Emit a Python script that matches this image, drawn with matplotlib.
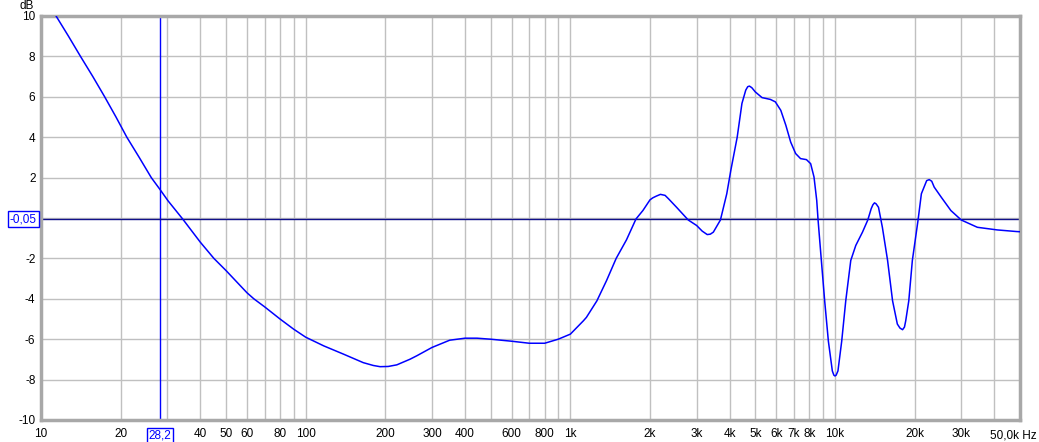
import numpy as np
import matplotlib
matplotlib.use("Agg")
import matplotlib.pyplot as plt

# frequency response (Hz, dB)
freq_hz = [10, 11.4, 12.7, 14.1, 15.7, 17.4, 19.2, 21.1, 23.5, 26.1, 28.2, 30.2,
           34.3, 40, 45, 50, 60, 63.7, 70, 80, 90, 100, 117, 139, 165, 180, 191,
           205, 221, 248, 263, 300, 350, 400, 444, 500, 600, 700, 800, 900, 1000,
           1120, 1150, 1260, 1370, 1490, 1630, 1770, 1880, 2000, 2050, 2110, 2190,
           2280, 2350, 2520, 2790, 3000, 3150, 3290, 3380, 3470, 3690, 3900, 4040,
           4270, 4450, 4600, 4680, 4750, 4850, 5000, 5300, 5700, 5950, 6240, 6520,
           6800, 7100, 7410, 7800, 8090, 8330, 8530, 8630, 8880, 9140, 9440, 9770,
           9900, 10000, 10100, 10260, 10600, 10980, 11470, 11980, 12700, 13300,
           13700, 13900, 14100, 14300, 14600, 15100, 15800, 16500, 17200, 17600,
           18000, 18300, 18500, 19000, 19600, 20600, 21200, 22200, 22700, 23200,
           23700, 25200, 27400, 30000, 34500, 41000, 48500, 50000]
level_db = [11.25, 10.0, 9.0, 8.0, 7.0, 6.0, 5.0, 4.0, 3.0, 2.0, 1.4, 0.85,
            -0.05, -1.2, -2.0, -2.6, -3.7, -4.0, -4.4, -5.0, -5.5, -5.9, -6.33,
            -6.74, -7.16, -7.3, -7.36, -7.35, -7.27, -6.99, -6.82, -6.41, -6.05,
            -5.95, -5.95, -6.0, -6.1, -6.2, -6.2, -6.0, -5.75, -5.09, -4.92, -4.1,
            -3.1, -2.0, -1.08, -0.05, 0.37, 0.9, 1.0, 1.08, 1.17, 1.12, 0.95, 0.53,
            -0.1, -0.37, -0.65, -0.82, -0.8, -0.7, -0.1, 1.2, 2.36, 4.0, 5.67, 6.33,
            6.5, 6.53, 6.45, 6.24, 5.96, 5.87, 5.75, 5.33, 4.59, 3.76, 3.19, 2.94,
            2.89, 2.69, 2.03, 0.87, -0.1, -2.1, -4.1, -6.1, -7.57, -7.78, -7.82,
            -7.78, -7.57, -6.1, -4.1, -2.1, -1.36, -0.7, -0.1, 0.46, 0.65, 0.75,
            0.7, 0.53, -0.46, -2.1, -4.1, -5.25, -5.45, -5.53, -5.4, -5.09, -4.1,
            -2.1, -0.1, 1.2, 1.85, 1.9, 1.82, 1.53, 1.03, 0.37, -0.1, -0.46, -0.59,
            -0.67, -0.68]

cursor_hz = 28.2
cursor_db = -0.05

grid_hz = [m * 10 ** d for d in range(1, 5) for m in range(1, 10) if m * 10 ** d < 50000]
label_hz = {10: "10", 20: "20", 40: "40", 50: "50", 60: "60", 80: "80",
            100: "100", 200: "200", 300: "300", 400: "400", 600: "600",
            800: "800", 1000: "1k", 2000: "2k", 3000: "3k", 4000: "4k",
            5000: "5k", 6000: "6k", 7000: "7k", 8000: "8k", 10000: "10k",
            20000: "20k", 30000: "30k"}
y_ticks = list(range(-10, 11, 2))

plt.rcParams['font.family'] = ['Liberation Sans', 'DejaVu Sans']
blue = '#0000ff'
grid_col = '#c0c0c0'

fig = plt.figure(figsize=(10.39, 4.42), dpi=100)
ax = fig.add_axes([41 / 1039, 22 / 442, 979 / 1039, 404 / 442])
ax.set_xscale('log')

ax.set_xticks(grid_hz)
ax.set_xticklabels([label_hz.get(int(round(f)), "") for f in grid_hz])
ax.xaxis.set_minor_locator(matplotlib.ticker.NullLocator())
ax.set_yticks(y_ticks)
# the 0 label sits under the cursor box
ax.set_yticklabels(["" if v == 0 else str(v) for v in y_ticks])
ax.set_xlim(10, 50000)
ax.set_ylim(-10, 10)
ax.tick_params(axis='both', length=0, labelsize=8.5, colors='black')
ax.tick_params(axis='x', pad=6)
ax.tick_params(axis='y', pad=4)
ax.grid(True, color=grid_col, linewidth=1.0)
ax.set_axisbelow(True)

for s in ax.spines.values():
    s.set_color('#a8a8a8')
    s.set_linewidth(2.5)

ax.plot(freq_hz, level_db, color=blue, linewidth=1.1, zorder=3)

# cursor lines
ax.axvline(cursor_hz, color=blue, linewidth=1.0, zorder=2)
ax.axhline(cursor_db, color='#10108a', linewidth=1.0, zorder=2)

box = dict(boxstyle='square,pad=0.15', facecolor='white', edgecolor=blue, linewidth=1.0)
ax.annotate("-0,05", xy=(0, cursor_db), xycoords=('axes fraction', 'data'),
            xytext=(-3, 0), textcoords='offset points', ha='right', va='center',
            color=blue, fontsize=8.5, bbox=box)
ax.annotate("28,2", xy=(cursor_hz, 0), xycoords=('data', 'axes fraction'),
            xytext=(0, -11), textcoords='offset points', ha='center', va='center',
            color=blue, fontsize=8.5, bbox=box)

ax.annotate("50,0k Hz", xy=(1, 0), xycoords='axes fraction',
            xytext=(-5, -11), textcoords='offset points', ha='center', va='center',
            fontsize=8.5, annotation_clip=False)
ax.annotate("dB", xy=(0, 1), xycoords='axes fraction',
            xytext=(-10, 7), textcoords='offset points', ha='center', va='center',
            fontsize=8.5, annotation_clip=False)

fig.savefig("out.png", dpi=100)
